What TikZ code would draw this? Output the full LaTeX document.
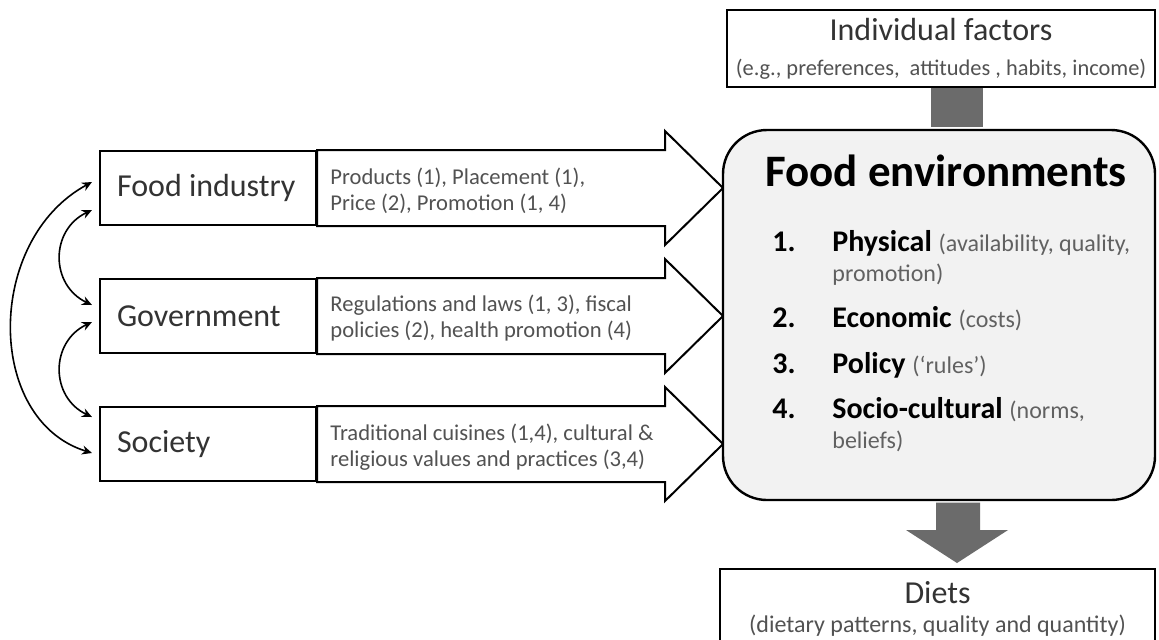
\documentclass[tikz,border=0pt]{standalone}
\usepackage{fontspec}
\setmainfont{Carlito}
\usetikzlibrary{arrows.meta, calc}

\newcommand{\envnote}[1]{{\mdseries\fontsize{12}{15}\selectfont\color{black!62}#1}}

\begin{document}
\begin{tikzpicture}[x=0.5pt, y=-0.5pt,
    sidebox/.style={draw, line width=1pt, fill=white, inner sep=0pt,
        minimum width=108pt, minimum height=37pt, text width=91pt, align=flush left,
        font=\fontsize{16}{19}\selectfont, text=black!80},
    blockarrow/.style={draw, line width=1pt, fill=white, line join=miter},
    note/.style={anchor=base west, text width=170pt, align=flush left, inner sep=0pt,
        font=\fontsize{11.3}{13}\selectfont, text=black!68},
    headbox/.style={draw, line width=1pt, fill=white, align=flush center, inner sep=0pt,
        font=\fontsize{16}{19}\selectfont, text=black!80},
    envbox/.style={draw, line width=1.2pt, fill=black!5, rounded corners=22pt,
        inner sep=0pt, minimum width=216pt, minimum height=185pt},
    flow/.style={fill=black!58},
    link/.style={{Stealth[length=5pt, width=4.5pt]}-{Stealth[length=5pt, width=4.5pt]},
        line width=0.8pt},
    num/.style={anchor=base west, inner sep=0pt, font=\fontsize{15}{15}\selectfont\bfseries},
    itemtxt/.style={anchor=base west, inner sep=0pt, text width=160pt, align=flush left,
        font=\fontsize{15}{15}\selectfont\bfseries}
]
    \path[use as bounding box, fill=white] (0,0) rectangle (1159,639);
    \clip (0,0) rectangle (1159,639);

    % Actors on the left
    \node[sidebox] (industry) at (208,188) {Food industry};
    \node[sidebox] (govt) at (208,316) {Government};
    \node[sidebox] (society) at (208,444) {Society};
    % Block arrows into the food environments
    \foreach \n in {industry, govt, society}
        \draw[blockarrow] (\n.north east) -- (\n.north east -| 665,0) -- ++(0,-19)
            -- (\n.east -| 723,0) -- ($(\n.south east -| 665,0)+(0,19)$)
            -- (\n.south east -| 665,0) -- (\n.south east) -- cycle;
    \node[note] (indnote) at (330,184) {Products (1), Placement (1),\\Price (2), Promotion (1, 4)};
    \node[note] (govtnote) at (330,311) {Regulations and laws (1, 3), fiscal\\policies (2), health promotion (4)};
    \node[note] (socnote) at (330,440) {Traditional cuisines (1,4), cultural \&\\religious values and practices (3,4)};
    % Links between the actors
    \draw[link] ($(industry.west)+(-7,-6)$) .. controls (-15,240) and (-15,420) .. ($(society.west)+(-7,9)$);
    \draw[link] ($(industry.west)+(-7,22)$) .. controls (50,230) and (50,285) .. ($(govt.west)+(-7,-11)$);
    \draw[link] ($(govt.west)+(-7,6)$) .. controls (50,342) and (50,397) .. ($(society.west)+(-7,-27)$);

    % Right column
    \node[headbox, minimum width=214pt, minimum height=38.5pt] (ind) at (941,48.5)
        {Individual factors\\[-1.5pt]{\fontsize{11.2}{13}\selectfont\color{black!68}(e.g., preferences,\ \ attitudes , habits, income)}};
    \node[envbox] (env) at (939,315) {};
    \node[headbox, minimum width=217.5pt, minimum height=40pt] (diets) at (937.5,609)
        {Diets\\[-4.5pt]{\fontsize{12}{14}\selectfont\color{black!68}(dietary patterns, quality and quantity)}};
    \fill[flow] (ind.south -| 931,0) rectangle ($(env.north -| 983,0)+(0,-1.5)$); % from individual factors
    \fill[flow] ($(env.south -| 936,0)+(0,1.5)$) -- ($(env.south -| 980,0)+(0,1.5)$) -- (980,530) -- (1008,530)
        -- ($(diets.north -| 957,0)+(0,-5)$) -- (906,530) -- (936,530) -- cycle; % down to diets

    % Contents of the food environments
    \node[inner sep=0pt, anchor=base, font=\fontsize{22.5}{24}\selectfont\bfseries] (envtitle) at (946,186) {Food environments};
    \node[num] (n1) at (772,251) {1.};
    \node[itemtxt] (p1) at (832,251) {Physical \envnote{(availability, quality,\\promotion)}};
    \node[num] (n2) at (772,327) {2.};
    \node[itemtxt] (p2) at (832,327) {Economic \envnote{(costs)}};
    \node[num] (n3) at (772,373) {3.};
    \node[itemtxt] (p3) at (832,373) {Policy \envnote{(`rules')}};
    \node[num] (n4) at (772,418) {4.};
    \node[itemtxt] (p4) at (832,418) {Socio-cultural \envnote{(norms,\\beliefs)}};
\end{tikzpicture}
\end{document}
